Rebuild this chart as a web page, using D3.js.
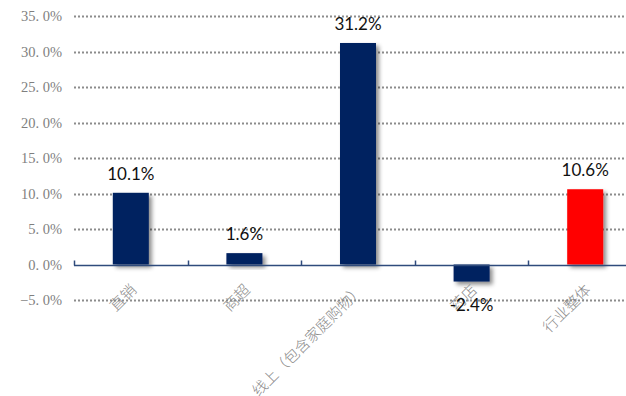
<!DOCTYPE html>
<html>
<head>
<meta charset="utf-8">
<script src="https://cdn.jsdelivr.net/npm/d3@7"></script>
<style>
  html, body { margin: 0; padding: 0; background: #fff; }
  svg { display: block; }
</style>
</head>
<body>
<svg id="chart" width="626" height="396"></svg>
<script>
// Growth rate by sales channel
const categories = ["直销", "商超", "线上（包含家庭购物）", "药店", "行业整体"];
const growth = [10.1, 1.6, 31.2, -2.4, 10.6];
const barColors = ["#002060", "#002060", "#002060", "#002060", "#FF0000"];
const yTicks = [-5, 0, 5, 10, 15, 20, 25, 30, 35];

const svg = d3.select("#chart");
const W = 626, H = 396;

// Plot area (the category axis runs a little past the right edge)
const x0 = 74, x1 = 642;
const y = d3.scaleLinear().domain([-5, 35]).range([300, 16]);
const x = d3.scaleBand().domain(categories).range([x0, x1]).paddingInner(0.683).paddingOuter(0.3415);

const defs = svg.append("defs");
const f = defs.append("filter").attr("id", "shadow")
  .attr("x", "-30%").attr("y", "-30%").attr("width", "170%").attr("height", "170%");
f.append("feDropShadow").attr("dx", 3).attr("dy", 3).attr("stdDeviation", 2.2)
  .attr("flood-color", "#000").attr("flood-opacity", 0.45);

// Dotted gridlines
svg.append("g").selectAll("line").data(yTicks.filter(d => d !== 0)).join("line")
  .attr("x1", 74).attr("x2", W)
  .attr("y1", d => Math.round(y(d)) + 0.5).attr("y2", d => Math.round(y(d)) + 0.5)
  .attr("stroke", "#8c8c8c").attr("stroke-width", 2).attr("stroke-dasharray", "2,2");

// Y axis labels
const fmt = d => d.toFixed(1).replace(".", ". ") + "%";
svg.append("g").selectAll("text").data(yTicks).join("text")
  .attr("x", 62).attr("y", d => y(d))
  .attr("dy", "0.35em")
  .attr("text-anchor", "end")
  .attr("font-family", "'Liberation Serif', 'DejaVu Serif', serif")
  .attr("font-size", 14.5)
  .attr("fill", "#7f7f7f")
  .text(d => fmt(d).replace("-", "−"));

// Bars
svg.append("g").selectAll("rect").data(categories).join("rect")
  .attr("x", d => x(d))
  .attr("width", x.bandwidth())
  .attr("y", (d, i) => y(Math.max(0, growth[i])))
  .attr("height", (d, i) => Math.abs(y(growth[i]) - y(0)))
  .attr("fill", (d, i) => barColors[i])
  .attr("filter", "url(#shadow)");

// Category axis line with tick marks at band boundaries
const zeroY = Math.round(y(0)) + 0.5;
const ax = svg.append("g");
ax.append("line").attr("x1", x0).attr("x2", W).attr("y1", zeroY).attr("y2", zeroY)
  .attr("stroke", "#2f4b7c").attr("stroke-width", 1.5);
const bounds = d3.range(categories.length).map(i => x0 + i * (x1 - x0) / categories.length);
ax.selectAll("line.tick").data(bounds).join("line").attr("class", "tick")
  .attr("x1", d => Math.round(d) + 0.5).attr("x2", d => Math.round(d) + 0.5)
  .attr("y1", zeroY).attr("y2", zeroY - 5)
  .attr("stroke", "#2f4b7c").attr("stroke-width", 1.5);

// Category labels, rotated
svg.append("g").selectAll("text").data(categories).join("text")
  .attr("transform", d => `translate(${x(d) + x.bandwidth() / 2 - 2},${zeroY + 17}) rotate(-45)`)
  .attr("text-anchor", "end")
  .attr("dy", "0.8em")
  .attr("font-family", "'Noto Sans CJK SC', sans-serif")
  .attr("font-size", 15)
  .attr("font-weight", 300)
  .attr("fill", "#8a8a8a")
  .text(d => d);

// Value labels
svg.append("g").selectAll("text").data(categories).join("text")
  .attr("x", d => x(d) + x.bandwidth() / 2)
  .attr("y", (d, i) => growth[i] >= 0 ? y(growth[i]) - 13 : y(growth[i]) + 29)
  .attr("text-anchor", "middle")
  .attr("font-family", "Lato, 'Open Sans', sans-serif")
  .attr("font-size", 17)
  .attr("fill", "#111")
  .text((d, i) => growth[i].toFixed(1) + "%");
</script>
</body>
</html>
